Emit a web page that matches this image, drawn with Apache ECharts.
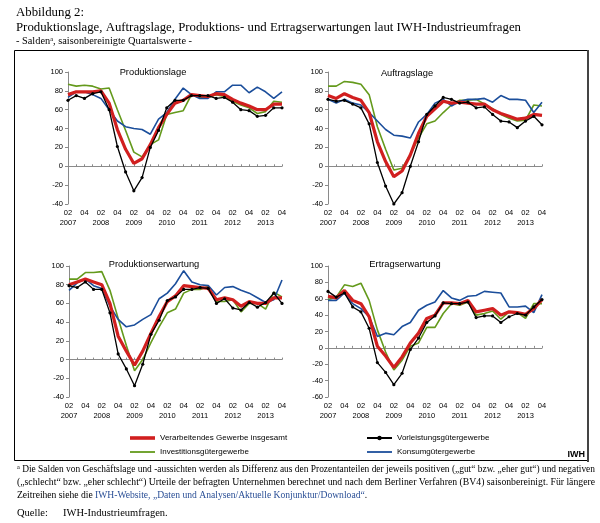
<!DOCTYPE html>
<html><head><meta charset="utf-8">
<script src="https://cdn.jsdelivr.net/npm/echarts@6/dist/echarts.min.js"></script>
<style>html,body{margin:0;padding:0;background:#fff}#c{width:600px;height:523px}</style>
</head><body><div id="c"></div>
<script>
// ---------- data ----------
const categories = ['2007-2','2007-3','2007-4','2008-1','2008-2','2008-3','2008-4','2009-1','2009-2','2009-3','2009-4','2010-1','2010-2','2010-3','2010-4','2011-1','2011-2','2011-3','2011-4','2012-1','2012-2','2012-3','2012-4','2013-1','2013-2','2013-3','2013-4'];
const seriesNames = ['Verarbeitendes Gewerbe insgesamt','Investitionsgütergewerbe','Vorleistungsgütergewerbe','Konsumgütergewerbe'];
const panelTitles = ['Produktionslage','Auftragslage','Produktionserwartung','Ertragserwartung'];
const yMins = [-40,-40,-40,-60];
const yMaxs = [100,100,100,100];

const prodLageVerarb = [76,79,79,79,80,67,39,18,3,8,23,41,55,67,70,76,75,74,77,76,71,67,64,60,60,66,66];
const prodLageInvest = [87,85,86,85,82,83,60,38,15,10,23,28,55,57,59,76,73,73,76,74,69,65,62,56,58,69,68];
const prodLageVorl   = [70,75,72,77,79,60,21,-6,-26,-12,20,38,62,70,70,75,75,75,72,73,68,60,59,53,54,62,62];
const prodLageKonsum = [73,79,79,76,72,60,48,42,40,39,34,50,57,71,83,76,72,72,79,79,86,86,78,84,79,72,79];

const auftrVerarb = [75,72,77,73,70,57,26,5,-11,-5,12,35,53,61,69,67,68,67,66,66,60,56,53,50,51,55,54];
const auftrInvest = [85,85,90,89,87,76,42,18,-4,-2,12,30,45,48,57,65,70,70,71,66,61,55,51,48,49,65,64];
const auftrVorl   = [71,69,70,66,62,45,4,-21,-40,-28,0,26,55,64,73,71,67,68,62,63,55,48,47,41,48,53,44];
const auftrKonsum = [71,67,71,67,65,57,48,39,33,32,30,47,55,67,71,64,69,71,71,72,68,75,71,71,70,57,68];

const prodErwVerarb = [80,83,86,83,80,60,25,9,-6,9,28,46,62,68,79,78,77,76,64,66,64,57,62,60,60,66,66];
const prodErwInvest = [86,86,93,93,94,74,44,15,-12,0,18,35,50,54,71,75,75,78,62,62,64,51,60,60,54,72,67];
const prodErwVorl   = [79,77,83,75,75,50,6,-10,-28,-5,27,42,63,67,75,75,77,76,60,65,55,53,61,56,61,71,60];
const prodErwKonsum = [74,82,86,79,76,57,43,35,37,43,48,65,71,81,95,83,80,79,69,77,78,74,71,66,61,64,85];

const ertrErwVerarb = [63,61,70,58,54,38,2,-10,-24,-11,6,18,36,40,55,55,54,58,44,46,48,40,44,43,41,48,59];
const ertrErwInvest = [59,62,77,75,79,58,22,-5,-27,-15,2,6,25,25,42,54,52,56,40,42,45,35,44,43,36,54,54];
const ertrErwVorl   = [69,62,67,50,44,24,-18,-30,-45,-31,-2,12,31,39,55,54,54,56,37,39,39,31,38,42,40,50,59];
const ertrErwKonsum = [58,58,67,54,48,38,14,18,16,26,31,46,52,56,70,61,58,63,64,69,68,67,50,50,51,43,65];

const panelData = [
  [prodLageVerarb, prodLageInvest, prodLageVorl, prodLageKonsum],
  [auftrVerarb, auftrInvest, auftrVorl, auftrKonsum],
  [prodErwVerarb, prodErwInvest, prodErwVorl, prodErwKonsum],
  [ertrErwVerarb, ertrErwInvest, ertrErwVorl, ertrErwKonsum]
];

// ---------- styling / layout ----------
const SANS = '"Liberation Sans", Arial, sans-serif';
const SERIF = '"Liberation Serif", "Times New Roman", serif';
const colors = ['#d11f1f', '#649a1c', '#000000', '#1b4e9b'];
const widths = [3.2, 1.6, 1.3, 1.6];
const drawOrder = [1, 3, 0, 2];
const gridBoxes = [[68,72,214,132],[328,72,214,132],[69,266,213,131],[328,266,214,131]];
const titlePos = [[153,73],[407,74],[154,265],[405,265]];
const legendIcons = [
  'path://M0,0L25,0L25,3.6L0,3.6Z',
  'path://M0,0L25,0L25,1.8L0,1.8Z',
  'path://M0,2.1L25,2.1L25,3.9L0,3.9Z M10.3,3A2.2,2.2 0 1 1 14.7,3A2.2,2.2 0 1 1 10.3,3Z',
  'path://M0,0L25,0L25,1.8L0,1.8Z'
];

const grids = [], xAxes = [], yAxes = [], series = [], titles = [];
gridBoxes.forEach((b, i) => {
  grids.push({left: b[0], top: b[1], width: b[2], height: b[3], containLabel: false, outerBoundsMode: 'none'});
  xAxes.push({
    type: 'category', gridIndex: i, data: categories, boundaryGap: false, position: 'bottom',
    axisLine: {show: false, onZero: false}, axisTick: {show: false}, splitLine: {show: false},
    axisLabel: {interval: 1, margin: 4, fontSize: 7.5, lineHeight: 10, color: '#000', fontFamily: SANS,
      formatter: v => { const p = v.split('-'); return p[1] === '2' ? '02\n' + p[0] : '0' + p[1]; }}
  });
  xAxes.push({
    type: 'category', gridIndex: i, data: categories, boundaryGap: false, position: 'top',
    axisLine: {show: true, onZero: true, lineStyle: {color: '#8a8a8a', width: 1}},
    axisTick: {show: true, interval: 0, length: 2, lineStyle: {color: '#8a8a8a'}},
    axisLabel: {show: false}, splitLine: {show: false}
  });
  yAxes.push({
    type: 'value', gridIndex: i, min: yMins[i], max: yMaxs[i], interval: 20,
    axisLine: {show: true, lineStyle: {color: '#8a8a8a', width: 1}},
    axisTick: {show: true, length: 3, lineStyle: {color: '#8a8a8a'}},
    splitLine: {show: false},
    axisLabel: {fontSize: 7.5, color: '#000', margin: 5, fontFamily: SANS}
  });
  titles.push({text: panelTitles[i], left: titlePos[i][0], top: titlePos[i][1] - 5, textAlign: 'center',
    textStyle: {fontSize: 9.3, fontWeight: 'normal', color: '#000', fontFamily: SANS}, padding: 0});
  drawOrder.forEach(k => {
    series.push({
      name: seriesNames[k], type: 'line', xAxisIndex: i * 2, yAxisIndex: i, data: panelData[i][k],
      symbol: k === 2 ? 'circle' : 'none', symbolSize: 3.2, showSymbol: k === 2,
      lineStyle: {color: colors[k], width: widths[k]}, itemStyle: {color: colors[k]},
      emphasis: {disabled: true}, animation: false, z: 2
    });
  });
});

// ---------- text helpers ----------
const ctx = document.createElement('canvas').getContext('2d');
function tw(str, size, fam) { ctx.font = size + 'px ' + fam; return ctx.measureText(str).width; }

const headLine1 = 'Abbildung 2:';
const headLine2 = 'Produktionslage, Auftragslage, Produktions- und Ertragserwartungen laut IWH-Industrieumfragen';
const headLine3a = '- Salden', headLine3b = ', saisonbereinigte Quartalswerte -';
const foot1 = ' Die Salden von Geschäftslage und -aussichten werden als Differenz aus den Prozentanteilen der jeweils positiven („gut“ bzw. „eher gut“) und negativen';
const foot2 = '(„schlecht“ bzw. „eher schlecht“) Urteile der befragten Unternehmen berechnet und nach dem Berliner Verfahren (BV4) saisonbereinigt. Für längere';
const foot3a = 'Zeitreihen siehe die ', foot3b = 'IWH-Website, „Daten und Analysen/Aktuelle Konjunktur/Download“', foot3c = '.';

const HF = 13, FF = 9.6, SUP = 6.5;
const h2scale = 505 / tw(headLine2, HF, SERIF);
const f1scale = 578 / (tw('a', SUP, SERIF) + tw(foot1, FF, SERIF));
const f2scale = 578 / tw(foot2, FF, SERIF);

function txt(x, y, text, size, fam, extra) {
  return Object.assign({type: 'text', x: x, y: y, silent: true,
    style: {text: text, fontSize: size, fontFamily: fam, fill: '#000', align: 'left', verticalAlign: 'middle'}}, extra || {});
}
const supStyle = {fontSize: SUP, fontFamily: SERIF, fill: '#000', verticalAlign: 'top', padding: [0, 0, 4, 0]};
const graphic = [
  {type: 'rect', silent: true, shape: {x: 14.5, y: 50.5, width: 573, height: 410}, style: {fill: 'none', stroke: '#000', lineWidth: 1}},
  {type: 'line', silent: true, shape: {x1: 588, y1: 50, x2: 588, y2: 462}, style: {stroke: '#444', lineWidth: 2}},
  txt(16, 13, headLine1, HF, SERIF, {scaleX: h2scale}),
  txt(16, 27.5, headLine2, HF, SERIF, {scaleX: h2scale}),
  {type: 'text', x: 16, y: 41, silent: true, scaleX: h2scale, style: {
    text: '{n|' + headLine3a + '}{s|a}{n|' + headLine3b + '}', align: 'left', verticalAlign: 'middle',
    rich: {n: {fontSize: 10.5, fontFamily: SERIF, fill: '#000'}, s: supStyle}}},
  {type: 'text', x: 585, y: 455, silent: true, style: {text: 'IWH', fontSize: 9, fontWeight: 'bold', fontFamily: SANS, fill: '#000', align: 'right', verticalAlign: 'middle'}},
  {type: 'text', x: 17, y: 469, silent: true, scaleX: f1scale, style: {
    text: '{s|a}{n|' + foot1 + '}', align: 'left', verticalAlign: 'middle',
    rich: {n: {fontSize: FF, fontFamily: SERIF, fill: '#000'}, s: supStyle}}},
  txt(17, 482, foot2, FF, SERIF, {scaleX: f2scale}),
  {type: 'text', x: 17, y: 495, silent: true, style: {
    text: '{n|' + foot3a + '}{l|' + foot3b + '}{n|' + foot3c + '}', align: 'left', verticalAlign: 'middle',
    rich: {n: {fontSize: FF, fontFamily: SERIF, fill: '#000'}, l: {fontSize: FF, fontFamily: SERIF, fill: '#2a4f96'}}}},
  txt(17, 513, 'Quelle:', 10.5, SERIF),
  txt(63, 513, 'IWH-Industrieumfragen.', 10.5, SERIF)
];

const legendCommon = {orient: 'vertical', itemWidth: 25, itemHeight: 10, itemGap: 6, selectedMode: false, padding: 0,
  symbolKeepAspect: true, itemStyle: {borderWidth: 0},
  textStyle: {fontSize: 8, color: '#000', fontFamily: SANS}};
const legends = [
  Object.assign({}, legendCommon, {left: 130, top: 434, data: [
    {name: seriesNames[0], icon: legendIcons[0]}, {name: seriesNames[1], icon: legendIcons[1]}]}),
  Object.assign({}, legendCommon, {left: 367, top: 434, data: [
    {name: seriesNames[2], icon: legendIcons[2]}, {name: seriesNames[3], icon: legendIcons[3]}]})
];

const chart = echarts.init(document.getElementById('c'), null, {renderer: 'canvas'});
chart.setOption({
  animation: false, backgroundColor: '#fff',
  title: titles, grid: grids, xAxis: xAxes, yAxis: yAxes, series: series,
  legend: legends, graphic: graphic, tooltip: {show: false}
});
</script></body></html>
